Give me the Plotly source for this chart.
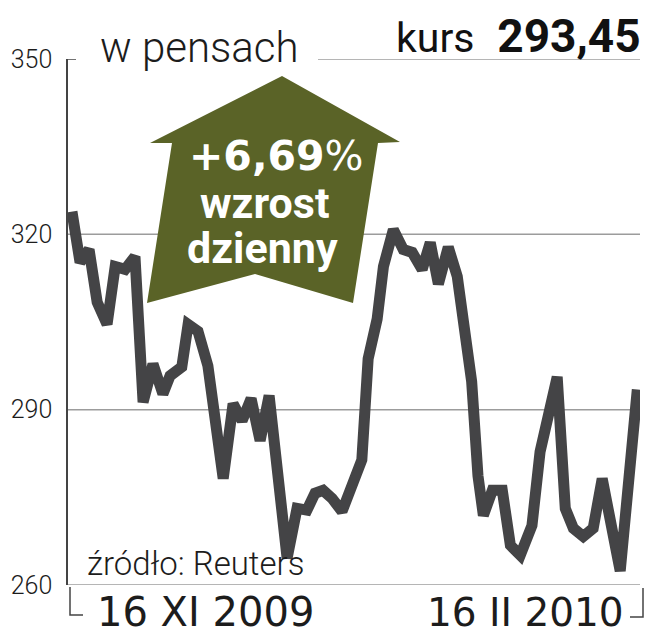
import plotly.graph_objects as go

# ---- data ----
days = [0, 0.9, 1.9, 2.8, 3.9, 4.8, 5.9, 7.0, 7.9, 9.0, 10.1, 10.9, 12.2, 12.9, 14.0,
        15.1, 16.8, 17.9, 18.9, 19.9, 20.9, 21.9, 23.9, 25.0, 26.1, 27.0, 27.9, 28.9,
        30.0, 31.2, 32.2, 32.9, 33.9, 34.6, 35.7, 36.8, 37.8, 38.9, 39.8, 40.7, 41.8,
        42.8, 43.7, 44.4, 45.1, 45.7, 46.7, 47.8, 48.7, 49.8, 51.1, 52.0, 53.9, 54.8,
        55.7, 56.8, 57.9, 58.9, 60.9, 62.8]
price = [323.9, 315.2, 317.4, 308.4, 304.6, 314.5, 314.0, 316.2, 291.3, 297.8, 292.7,
         295.8, 297.3, 304.6, 303.4, 297.5, 278.2, 291.0, 288.1, 291.9, 284.7, 292.4,
         264.6, 273.1, 272.8, 275.7, 276.2, 274.8, 272.6, 277.7, 281.4, 298.7, 305.5,
         314.5, 320.8, 317.4, 316.9, 314.0, 318.6, 311.5, 317.8, 312.8, 301.6, 294.8,
         278.7, 271.9, 276.2, 276.2, 266.8, 265.1, 270.2, 282.8, 295.6, 273.1, 269.7,
         268.3, 269.7, 278.2, 262.4, 293.45]
y_ticks = [260, 290, 320, 350]
grid_full = [260, 290, 320]
start_label = "16 XI 2009"
end_label = "16 II 2010"
last_price = "293,45"
change_label = "+6,69%"

# the page body adds an 8px offset, so the figure is 8px smaller and shifted
OFF = 8
W, H = 652 - OFF, 640 - OFF
L, R, T, B = 68 - OFF, 12, 59 - OFF, 55
PW, PH = W - L - R, H - T - B


def px(x):  # screen pixel -> paper
    return (x - OFF - L) / PW


def py(y):
    return (H - B - (y - OFF)) / PH


TEXT = "#1c1c1c"
GRID = "#9c9c9c"
OLIVE = "#5a6327"

fig = go.Figure()
fig.add_trace(go.Scatter(x=days, y=price, mode="lines",
                         line=dict(color="#444446", width=11, shape="linear"),
                         hoverinfo="skip", showlegend=False))

shapes = []
for g in grid_full:
    shapes.append(dict(type="line", xref="paper", yref="y", x0=0, x1=1, y0=g, y1=g,
                       line=dict(color=GRID, width=1.5), layer="below"))
# partial top line
shapes.append(dict(type="line", xref="paper", yref="y", x0=px(318), x1=1, y0=350, y1=350,
                   line=dict(color=GRID, width=1.5), layer="below"))
# top tick
shapes.append(dict(type="line", xref="paper", yref="y", x0=0, x1=px(76), y0=350, y1=350,
                   line=dict(color="#444", width=1.5)))
# brackets at bottom
shapes.append(dict(type="path", xref="paper", yref="paper",
                   path=f"M {px(70)} {py(587)} L {px(70)} {py(615)} L {px(83)} {py(615)}",
                   line=dict(color="#444", width=1.5)))
shapes.append(dict(type="path", xref="paper", yref="paper",
                   path=f"M {px(643)} {py(588)} L {px(643)} {py(617)} L {px(630)} {py(617)}",
                   line=dict(color="#444", width=1.5)))
# arrow
arrow_px = [(282, 76), (400, 142), (378, 143), (353, 303), (255, 274),
            (147, 303), (172, 143), (150, 143)]
path = "M " + " L ".join(f"{px(a)} {py(b)}" for a, b in arrow_px) + " Z"
shapes.append(dict(type="path", xref="paper", yref="paper", path=path,
                   fillcolor=OLIVE, line=dict(color=OLIVE, width=0), layer="above"))

ann = []
ann.append(dict(xref="paper", yref="paper", x=px(643), y=py(36), xanchor="right",
                yanchor="middle", showarrow=False,
                text=f"<span style='font-size:41px'>kurs</span>  <b>{last_price}</b>",
                font=dict(family="Roboto", size=46, color="#111")))
ann.append(dict(xref="paper", yref="paper", x=px(98), y=py(47), xanchor="left",
                yanchor="middle", showarrow=False, text="w pensach",
                font=dict(family="Roboto", size=42, color=TEXT, weight=300)))
ann.append(dict(xref="paper", yref="paper", x=px(85), y=py(563), xanchor="left",
                yanchor="middle", showarrow=False, text="źródło: Reuters",
                font=dict(family="Roboto", size=33, color=TEXT, weight=300)))
ann.append(dict(xref="paper", yref="paper", x=px(95), y=py(612), xanchor="left",
                yanchor="middle", showarrow=False, text=start_label,
                font=dict(family="DejaVu Sans", size=40, color=TEXT)))
ann.append(dict(xref="paper", yref="paper", x=px(626), y=py(612), xanchor="right",
                yanchor="middle", showarrow=False, text=end_label,
                font=dict(family="DejaVu Sans", size=39, color=TEXT)))
ann.append(dict(xref="paper", yref="paper", x=px(276), y=py(156), xanchor="center",
                yanchor="middle", showarrow=False,
                text=f"<b>{change_label[:-1]}</b>%",
                font=dict(family="DejaVu Sans", size=41, color="white")))
ann.append(dict(xref="paper", yref="paper", x=px(264), y=py(203), xanchor="center",
                yanchor="middle", showarrow=False, text="<b>wzrost</b>",
                font=dict(family="Roboto", size=43, color="white")))
ann.append(dict(xref="paper", yref="paper", x=px(263), y=py(248), xanchor="center",
                yanchor="middle", showarrow=False, text="<b>dzienny</b>",
                font=dict(family="Roboto", size=43, color="white")))

fig.update_layout(
    width=W, height=H,
    margin=dict(l=L, r=R, t=T, b=B, autoexpand=False),
    paper_bgcolor="white", plot_bgcolor="white",
    shapes=shapes, annotations=ann,
    xaxis=dict(range=[-0.44, 63.1], visible=False, fixedrange=True, automargin=False),
    yaxis=dict(range=[260, 350], tickvals=y_ticks, ticktext=[str(v) for v in y_ticks],
               showgrid=False, zeroline=False, showline=True, linecolor="#444",
               linewidth=1.5, ticks="", ticklabelstandoff=9, automargin=False,
               tickfont=dict(family="Roboto", size=25, color=TEXT, weight=300)),
)

fig.write_html("out.html")
